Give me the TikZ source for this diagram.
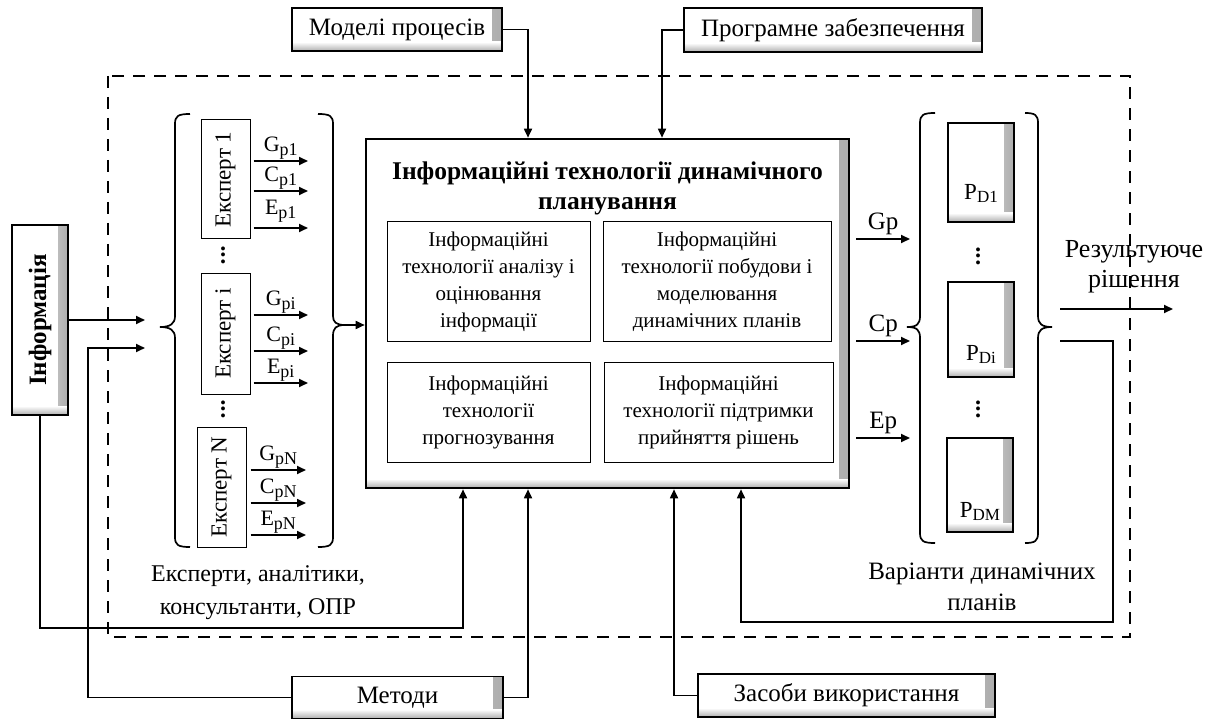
\documentclass[tikz,border=0pt]{standalone}
\usepackage{fontspec}
\setmainfont{Liberation Serif}
\usepackage{graphicx}
\usetikzlibrary{arrows.meta,calc}
\newcommand{\fs}[1]{\fontsize{#1}{#1}\selectfont}
\newcommand{\lsub}[2]{#1\raisebox{-4pt}{\fs{18}#2}}
\newcommand{\vdts}{\vbox{\baselineskip=6.5pt\lineskiplimit=-20pt\hbox{.}\hbox{.}\hbox{.}}}
\begin{document}
\begin{tikzpicture}[x=1pt,y=-1pt,
  every node/.style={font=\fontsize{20}{27}\selectfont},
  ln/.style={line width=1.7pt},
  arr/.style={line width=1.7pt,-{Triangle[length=9pt,width=8pt]}},
  bevel/.style={draw,line width=1.2pt,fill=white,inner sep=0pt,
    path picture={
      \fill[left color=white,right color=black!32] ([xshift=-10pt]path picture bounding box.north east) rectangle (path picture bounding box.south east);
      \fill[top color=white,bottom color=black!32] ([yshift=9pt]path picture bounding box.south west) rectangle (path picture bounding box.south east);
    }},
  plainbox/.style={draw,line width=1pt,fill=white,inner sep=0pt,align=center},
  lbl/.style={inner sep=1pt,font=\fontsize{22}{22}\selectfont},
  dots/.style={inner sep=0pt,font=\bfseries\fontsize{24}{24}\selectfont},
  dashbox/.style={line width=1.8pt,dash pattern=on 12pt off 9pt},
]
\useasboundingbox (0,0) rectangle (1217,719);

% dashed frame
\draw[dashbox] (108,76) rectangle (1130,637);

% outer boxes
\node[bevel,minimum width=210,minimum height=43,font=\fs{25}] (models) at (397,29.5) {Моделі процесів};
\node[bevel,minimum width=298,minimum height=44,font=\fs{25}] (soft) at (833,30) {Програмне забезпечення};
\node[bevel,minimum width=56,minimum height=190,font=\bfseries\fs{25}] (info) at (40,320) {\rotatebox{90}{Інформація}};
\node[bevel,minimum width=211,minimum height=42,font=\fs{25}] (methods) at (397.5,697.5) {Методи};
\node[bevel,minimum width=297,minimum height=43,font=\fs{25}] (tools) at (846.5,695.5) {Засоби використання};

% main box
\node[bevel,line width=2.6pt,minimum width=483,minimum height=349] (main) at (607.5,313.5) {};
\node[inner sep=0pt,align=center,font=\bfseries\fontsize{25.5}{30}\selectfont] (title) at (607.5,188) {Інформаційні технології динамічного\\планування};
\node[plainbox,minimum width=203,minimum height=119,font=\fontsize{21}{27}\selectfont] (ta) at (488.5,281.5) {Інформаційні\\технології аналізу і\\оцінювання\\інформації};
\node[plainbox,minimum width=228,minimum height=119,font=\fontsize{21}{27}\selectfont] (tb) at (717,281.5) {Інформаційні\\технології побудови і\\моделювання\\динамічних планів};
\node[plainbox,minimum width=203,minimum height=100,font=\fontsize{21}{27}\selectfont] (tc) at (488.5,412) {Інформаційні\\технології\\прогнозування};
\node[plainbox,minimum width=229,minimum height=100,font=\fontsize{21}{27}\selectfont] (td) at (718.5,412) {Інформаційні\\технології підтримки\\прийняття рішень};

% experts
\node[plainbox,minimum width=49,minimum height=119,font=\fs{23}] (e1) at (225.5,179.5) {\rotatebox{90}{Експерт 1}};
\node[plainbox,minimum width=49,minimum height=121,font=\fs{23}] (ei) at (225.5,333.5) {\rotatebox{90}{Експерт і}};
\node[plainbox,minimum width=49,minimum height=120,font=\fs{23}] (eN) at (221.5,487) {\rotatebox{90}{Експерт N}};
\node[dots] (d1) at (223,255) {\vdts};
\node[dots] (d2) at (223,409) {\vdts};

% expert braces
\draw[ln] (190,114) .. controls (178,114) and (175,116) .. (175,124) -- (175,316) .. controls (175,324) and (170,327) .. (160,327) .. controls (170,327) and (175,330) .. (175,338) -- (175,537) .. controls (175,545) and (178,547) .. (190,547);
\draw[ln] (318,114) .. controls (330,114) and (333,116) .. (333,124) -- (333,316) .. controls (333,322) and (336,325) .. (345,325) .. controls (336,325) and (333,328) .. (333,336) -- (333,537) .. controls (333,545) and (330,547) .. (318,547);
\coordinate (rbt) at (345,325);

% expert outputs
\coordinate (g1) at (308,161); \coordinate (c1o) at (308,191); \coordinate (x1) at (308,228);
\draw[arr] (e1.east |- g1) ++(3,0) -- node[lbl,above] {\lsub{G}{p1}} (g1);
\draw[arr] (e1.east |- c1o) ++(3,0) -- node[lbl,above] {\lsub{C}{p1}} (c1o);
\draw[arr] (e1.east |- x1) ++(3,0) -- node[lbl,above,yshift=4pt] {\lsub{E}{p1}} (x1);
\coordinate (gi) at (308,315); \coordinate (ci) at (308,351); \coordinate (xi) at (308,383);
\draw[arr] (ei.east |- gi) ++(3,0) -- node[lbl,above] {\lsub{G}{pi}} (gi);
\draw[arr] (ei.east |- ci) ++(3,0) -- node[lbl,above] {\lsub{C}{pi}} (ci);
\draw[arr] (ei.east |- xi) ++(3,0) -- node[lbl,above] {\lsub{E}{pi}} (xi);
\coordinate (gn) at (306,470); \coordinate (cn) at (306,503); \coordinate (xn) at (306,535);
\draw[arr] (eN.east |- gn) ++(4,0) -- node[lbl,above] {\lsub{G}{pN}} (gn);
\draw[arr] (eN.east |- cn) ++(4,0) -- node[lbl,above] {\lsub{C}{pN}} (cn);
\draw[arr] (eN.east |- xn) ++(4,0) -- node[lbl,above] {\lsub{E}{pN}} (xn);

\node[align=center,font=\fontsize{24}{33}\selectfont] (explbl) at (258,593) {Експерти, аналітики,\\консультанти, ОПР};

% into main from experts
\draw[arr] (rbt) -- (rbt -| main.west);

% right column
\node[bevel,minimum width=66,minimum height=99] (pd1) at (981,172.5) {};
\node[bevel,minimum width=66,minimum height=95] (pdi) at (981,329.5) {};
\node[bevel,minimum width=66,minimum height=94] (pdm) at (980,485) {};
\node[inner sep=0pt,anchor=base,font=\fs{23}] (tpd1) at ([yshift=23pt]pd1.south) {P\raisebox{-3pt}{\fs{17}D1}};
\node[inner sep=0pt,anchor=base,font=\fs{23}] (tpdi) at ([yshift=17pt]pdi.south) {P\raisebox{-3pt}{\fs{17}Di}};
\node[inner sep=0pt,anchor=base,font=\fs{23}] (tpdm) at ([yshift=15pt]pdm.south) {P\raisebox{-3pt}{\fs{17}DM}};
\node[dots] (d3) at (978,256) {\vdts};
\node[dots] (d4) at (978,409) {\vdts};

\draw[ln] (935,113) .. controls (923,113) and (920,115) .. (920,123) -- (920,316) .. controls (920,324) and (917,327) .. (907,327) .. controls (917,327) and (920,330) .. (920,338) -- (920,533) .. controls (920,541) and (923,543) .. (935,543);
\draw[ln] (1025,113) .. controls (1035,113) and (1038,115) .. (1038,123) -- (1038,316) .. controls (1038,324) and (1042,327) .. (1052,327) .. controls (1042,327) and (1038,330) .. (1038,338) -- (1038,533) .. controls (1038,541) and (1035,543) .. (1025,543);

\coordinate (gpe) at (910,239); \coordinate (cpe) at (910,341); \coordinate (epe) at (910,438);
\draw[arr] ([xshift=6pt]main.east |- gpe) -- node[lbl,above=2pt,font=\fs{25}] {Gp} (gpe);
\draw[arr] ([xshift=6pt]main.east |- cpe) -- node[lbl,above=2pt,font=\fs{25}] {Cp} (cpe);
\draw[arr] ([xshift=6pt]main.east |- epe) -- node[lbl,above=2pt,font=\fs{25}] {Ep} (epe);

\node[align=center,font=\fontsize{25}{31}\selectfont] (varlbl) at (982,587) {Варіанти динамічних\\планів};

% result
\coordinate (rs) at (1060,309); \coordinate (re) at (1173,309);
\draw[arr] (rs) -- (re);
\node[align=center,font=\fontsize{26}{30}\selectfont] (reslbl) at (1134,267) {Результуюче\\рішення};

% feedback
\coordinate (fb1) at (1060,341); \coordinate (fb2) at (1113,622);
\draw[arr] (fb1) -| (fb2) -| ([xshift=133.5pt]main.south);

% top inputs
\draw[arr] (models.east) -| ([xshift=-79.5pt]main.north);
\draw[arr] (soft.west) -| ([xshift=54.5pt]main.north);

% left inputs
\coordinate (inA) at (145,0); \coordinate (inB) at (145,348);
\draw[arr] (info.east) -- (info.east -| inA);
\draw[arr] (methods.west) -| ([xshift=-57pt]inB) -- (inB);
\coordinate (cI) at (463,628);
\draw[arr] (info.south) |- (cI) -- (cI |- main.south);

% bottom inputs
\draw[arr] (methods.east) -| ([xshift=-79.5pt]main.south);
\draw[arr] (tools.west) -| ([xshift=66.5pt]main.south);
\end{tikzpicture}
\end{document}
